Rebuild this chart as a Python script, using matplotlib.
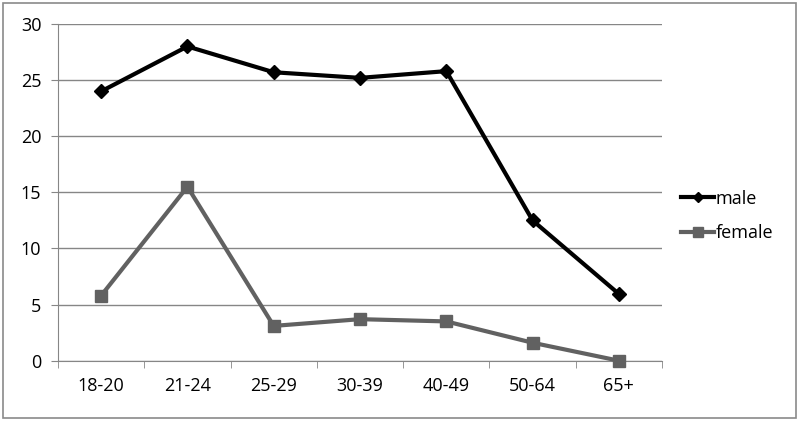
import matplotlib
matplotlib.use("Agg")
import matplotlib.pyplot as plt
from matplotlib.patches import Rectangle

categories = ["18-20", "21-24", "25-29", "30-39", "40-49", "50-64", "65+"]
male = [24.0, 28.0, 25.7, 25.2, 25.8, 12.5, 5.95]
female = [5.8, 15.5, 3.1, 3.7, 3.5, 1.6, 0.0]

plt.rcParams.update({"font.family": ["Open Sans", "DejaVu Sans"], "font.size": 13})

fig = plt.figure(figsize=(8.0, 4.22), dpi=100)
ax = fig.add_axes([58 / 800, 1 - 360.7 / 422, 604 / 800, 336.7 / 422])

x = list(range(len(categories)))
ax.plot(x, male, color="black", lw=3, marker="D", ms=7, label="male",
        zorder=4, clip_on=False)
ax.plot(x, female, color="#616161", lw=3, marker="s", ms=9, label="female",
        zorder=3, clip_on=False)

ax.set_xlim(-0.5, len(categories) - 0.5)
ax.set_ylim(0, 30)
ax.set_yticks(range(0, 31, 5))
ax.set_xticks(x)
ax.set_xticklabels(categories, fontsize=13)
ax.set_yticklabels([str(v) for v in range(0, 31, 5)], fontsize=13)
ax.set_xticks([i - 0.5 for i in range(len(categories) + 1)], minor=True)
ax.tick_params(axis="x", which="major", length=0, pad=12)
ax.tick_params(axis="x", which="minor", length=5, direction="out", color="#868686")
ax.tick_params(axis="y", length=5, direction="out", color="#868686", pad=7)
ax.grid(axis="y", color="#868686", lw=1)
ax.set_axisbelow(True)
for sp in ("top", "right"):
    ax.spines[sp].set_visible(False)
for sp in ("left", "bottom"):
    ax.spines[sp].set_color("#868686")

ax.legend(loc="center left", bbox_to_anchor=(1.005, 0.43), frameon=False,
          handlelength=1.8, handletextpad=0.1, labelspacing=0.9, fontsize=13,
          markerscale=0.8)

fig.patches.append(Rectangle((3 / 800, 4 / 422), 793 / 800, 415 / 422,
                             transform=fig.transFigure, fill=False,
                             edgecolor="#8a8a8a", lw=1.2))

fig.savefig("out.png", dpi=100)
